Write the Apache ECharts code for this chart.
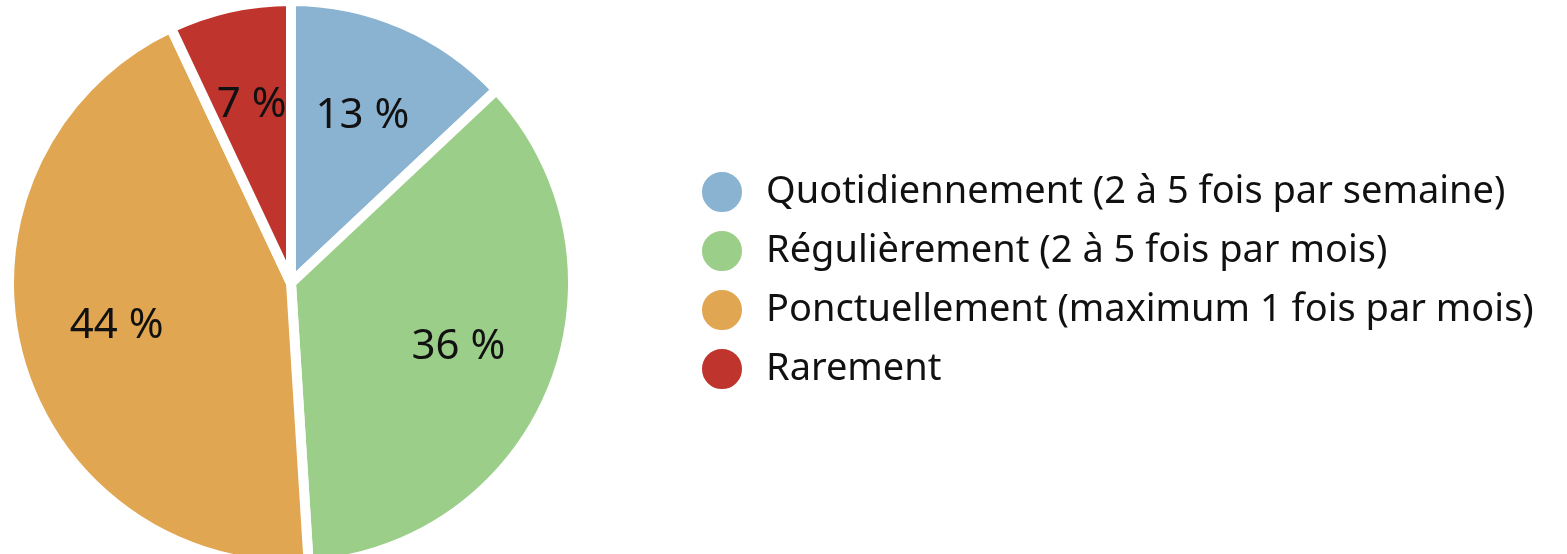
<!DOCTYPE html>
<html><head><meta charset="utf-8">
<script src="https://cdn.jsdelivr.net/npm/echarts@6/dist/echarts.min.js"></script>
<style>html,body{margin:0;padding:0;background:#fff}#c{width:1567px;height:554px}</style>
</head><body><div id="c"></div>
<script>
const categories = [
  "Quotidiennement (2 à 5 fois par semaine)",
  "Régulièrement (2 à 5 fois par mois)",
  "Ponctuellement (maximum 1 fois par mois)",
  "Rarement"
];
const values = [13, 36, 44, 7];
const colors = ["#8AB2D1", "#9BCE88", "#E0A652", "#BF342D"];

const chart = echarts.init(document.getElementById('c'));
const data = categories.map((n, i) => ({ name: n, value: values[i], itemStyle: { color: colors[i] } }));
const FONT = "'Noto Sans', sans-serif";
chart.setOption({
  animation: false,
  legend: {
    orient: 'vertical',
    left: 695, top: 165,
    icon: 'circle',
    itemWidth: 42, itemHeight: 42, itemGap: 15,
    textStyle: { fontSize: 38, color: '#111', fontFamily: FONT, padding: [0, 0, 0, 18] },
    data: categories
  },
  series: [
    {
      type: 'pie',
      center: [291, 283],
      radius: [0, 282],
      startAngle: 90,
      clockwise: true,
      silent: true,
      itemStyle: { borderColor: '#fff', borderWidth: 10 },
      label: { show: false },
      labelLine: { show: false },
      data: data
    },
    {
      type: 'pie',
      center: [291, 281],
      radius: [0, 354],
      startAngle: 90,
      clockwise: true,
      silent: true,
      legendHoverLink: false,
      itemStyle: { color: 'rgba(0,0,0,0)', borderWidth: 0 },
      label: {
        show: true, position: 'inside',
        formatter: p => p.value + ' %',
        fontSize: 42, color: '#111', fontFamily: FONT
      },
      labelLine: { show: false },
      data: categories.map((n, i) => ({ name: n, value: values[i] }))
    }
  ]
});
</script></body></html>
